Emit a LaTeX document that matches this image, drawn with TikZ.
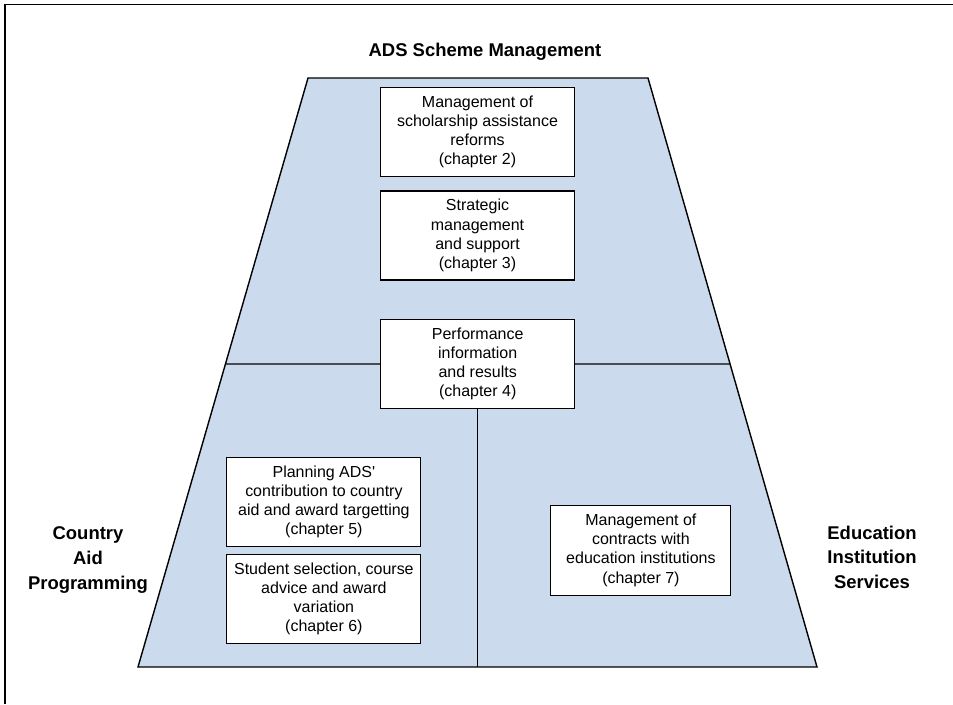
\documentclass[tikz,border=0pt]{standalone}
\usepackage{fontspec}
\setmainfont{Liberation Sans}
\definecolor{schemeblue}{RGB}{204,218,238}

\begin{document}
\begin{tikzpicture}[x=0.02cm,y=-0.02cm,
		chapbox/.style={draw, fill=white, line width=0.6pt, align=center,
			minimum width=3.88cm, minimum height=1.78cm, inner sep=2pt,
			font=\fontsize{9.1}{10.9}\selectfont},
		sidelabel/.style={align=center, font=\fontsize{10.5}{14}\selectfont\bfseries}]
		%%%%% START %%%%%
		\useasboundingbox (0,0) rectangle (953,704);
		\draw[line width=0.7pt] (5,704) -- (5,4.5) -- (953,4.5);
		
		% trapezoid
		\coordinate (tl) at (308,78);
		\coordinate (tr) at (648,78);
		\coordinate (br) at (817,667);
		\coordinate (bl) at (138,667);
		\draw[fill=schemeblue, line width=0.8pt] (tl) -- (tr) -- (br) -- (bl) -- cycle;
		
		\node[sidelabel] (scheme) at (485,52) {ADS Scheme Management};
		\node[sidelabel] (country) at (88,560) {Country\\Aid\\Programming};
		\node[sidelabel] (edu) at (872,557) {Education\\Institution\\Services};
		
		\node[chapbox] (perf) at (477.7,364) {Performance\\information\\and results\\(chapter 4)};
		
		\draw[line width=0.6pt] (intersection of tl--bl and perf.west--perf.east) -- (perf.west);
		\draw[line width=0.6pt] (perf.east) -- (intersection of tr--br and perf.west--perf.east);
		\draw[line width=0.6pt] (perf.south) -- (perf.south |- bl);
		
		\node[chapbox] (reform) at (477.5,132) {Management of\\scholarship assistance\\reforms\\(chapter 2)};
		\node[chapbox] (strat) at (477.5,235.5) {Strategic\\management\\and support\\(chapter 3)};
		\node[chapbox] (plan) at (323.9,502) {Planning ADS\textquotesingle\\contribution to country\\aid and award targetting\\(chapter 5)};
		\node[chapbox] (select) at (323.9,598.8) {Student selection, course\\advice and award\\variation\\(chapter 6)};
		\node[chapbox, minimum width=3.6cm, minimum height=1.8cm] (contract) at (640.9,550.2) {Management of\\contracts with\\education institutions\\(chapter 7)};
		%%%%% END %%%%%
\end{tikzpicture}
\end{document}
